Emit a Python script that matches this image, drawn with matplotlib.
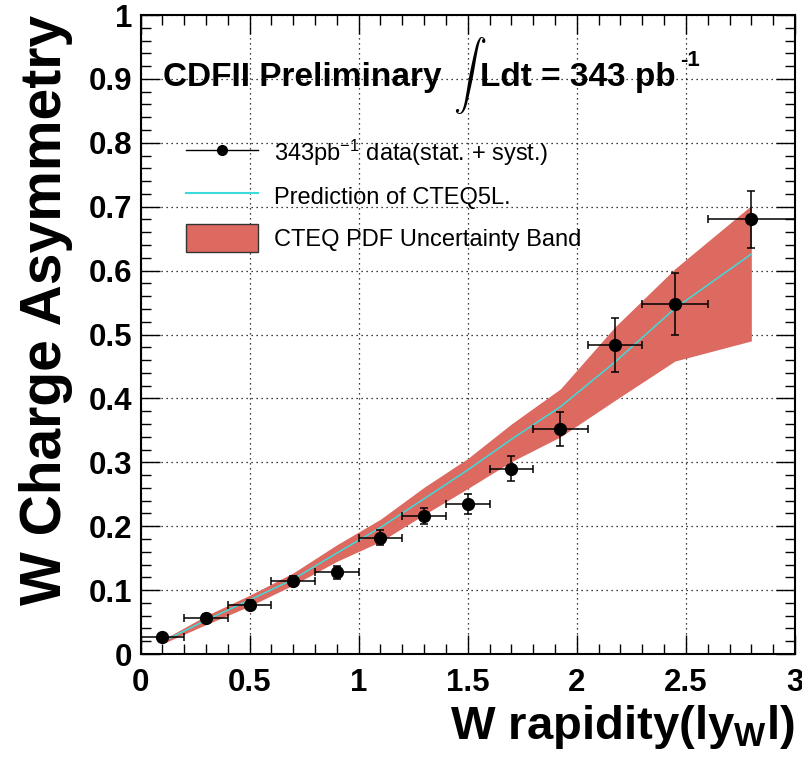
import matplotlib
matplotlib.use("Agg")
import matplotlib.pyplot as plt
from matplotlib.lines import Line2D
import matplotlib.patches as mpatches
from matplotlib.ticker import MultipleLocator
from matplotlib import font_manager

# ---- data ----
rapidity = [0.1, 0.3, 0.5, 0.7, 0.9, 1.1, 1.3, 1.5, 1.7, 1.925, 2.175, 2.45, 2.8]
bin_low = [0.0, 0.2, 0.4, 0.6, 0.8, 1.0, 1.2, 1.4, 1.6, 1.8, 2.05, 2.3, 2.6]
bin_high = [0.2, 0.4, 0.6, 0.8, 1.0, 1.2, 1.4, 1.6, 1.8, 2.05, 2.3, 2.6, 3.0]
asym = [0.026, 0.057, 0.077, 0.114, 0.128, 0.182, 0.216, 0.235, 0.290, 0.352, 0.484, 0.548, 0.680]
asym_err = [0.006, 0.006, 0.007, 0.008, 0.010, 0.012, 0.013, 0.016, 0.020, 0.026, 0.042, 0.048, 0.045]

pred = [0.019, 0.053, 0.0845, 0.117, 0.158, 0.198, 0.243, 0.288, 0.336, 0.387, 0.457, 0.541, 0.626]
band_hi = [0.022, 0.060, 0.092, 0.127, 0.171, 0.211, 0.261, 0.306, 0.360, 0.415, 0.512, 0.603, 0.702]
band_lo = [0.016, 0.046, 0.075, 0.108, 0.145, 0.176, 0.218, 0.259, 0.301, 0.340, 0.397, 0.4585, 0.490]

xticks = [0, 0.5, 1, 1.5, 2, 2.5, 3]
xtick_labels = ["0", "0.5", "1", "1.5", "2", "2.5", "3"]
yticks = [0, 0.1, 0.2, 0.3, 0.4, 0.5, 0.6, 0.7, 0.8, 0.9, 1.0]
ytick_labels = ["0", "0.1", "0.2", "0.3", "0.4", "0.5", "0.6", "0.7", "0.8", "0.9", "1"]

band_color = "#dd6a60"
line_color = "#3cdcdc"

names = {f.name for f in font_manager.fontManager.ttflist}
sans = "Liberation Sans" if "Liberation Sans" in names else "DejaVu Sans"

plt.rcParams["font.family"] = [sans, "DejaVu Sans"]
plt.rcParams["mathtext.fontset"] = "custom"
plt.rcParams["mathtext.rm"] = sans
plt.rcParams["mathtext.bf"] = sans + ":bold"
plt.rcParams["mathtext.it"] = sans + ":italic"

fig = plt.figure(figsize=(8.03, 7.62), dpi=100)
ax = fig.add_axes([0.175, 0.1417, 0.815, 0.8386])

xerr_lo = [c - l for c, l in zip(rapidity, bin_low)]
xerr_hi = [h - c for c, h in zip(rapidity, bin_high)]

ax.fill_between(rapidity, band_lo, band_hi, color=band_color, lw=0, zorder=2)
ax.plot(rapidity, pred, color=line_color, lw=1.1, zorder=3)
ax.errorbar(rapidity, asym, yerr=asym_err, xerr=[xerr_lo, xerr_hi], fmt="o",
            color="black", ms=8.5, elinewidth=1.1, capsize=3, capthick=1.1, zorder=4)

ax.set_xlim(0, 3)
ax.set_ylim(0, 1)
ax.set_xticks(xticks)
ax.set_xticklabels(xtick_labels)
ax.set_yticks(yticks)
ax.set_yticklabels(ytick_labels)
ax.xaxis.set_minor_locator(MultipleLocator(0.1))
ax.yaxis.set_minor_locator(MultipleLocator(0.02))
ax.tick_params(which="both", direction="in", top=True, right=True, width=1.0)
ax.tick_params(which="major", length=14, labelsize=22.5)
ax.tick_params(which="minor", length=7)
ax.tick_params(axis="x", which="major", pad=10)
ax.tick_params(axis="y", which="major", pad=6)
for lab in ax.get_xticklabels() + ax.get_yticklabels():
    lab.set_fontweight("bold")
for s in ax.spines.values():
    s.set_linewidth(1.5)
ax.grid(True, which="major", color="black", linestyle=(0, (1, 3)), lw=0.9, zorder=1)
ax.set_axisbelow(True)

ax.set_xlabel(r"W rapidity(ly$_{\mathbf{W}}$l)", fontsize=34, fontweight="bold",
              loc="right", labelpad=4)
ax.set_ylabel("W Charge Asymmetry", fontsize=41, fontweight="bold", loc="top", labelpad=11)

# title
ax.text(0.034, 0.889, "CDFII Preliminary", transform=ax.transAxes, fontsize=24,
        fontweight="bold", va="baseline")
ax.text(0.478, 0.906, r"$\int$", transform=ax.transAxes, fontsize=24,
        math_fontfamily="cm", va="center", ha="left")
ax.text(0.5186, 0.889, "Ldt = 343 pb", transform=ax.transAxes, fontsize=24,
        fontweight="bold", va="baseline")
ax.text(0.824, 0.92, "-1", transform=ax.transAxes, fontsize=16,
        fontweight="bold", va="baseline")

# legend
h_data = Line2D([], [], color="black", marker="o", ms=7, lw=1.0)
h_pred = Line2D([], [], color=line_color, lw=1.5)
h_band = mpatches.Patch(facecolor=band_color, edgecolor="#333333", lw=1.0)
leg = ax.legend([h_data, h_pred, h_band],
                [r"343pb$^{-1}$ data(stat. + syst.)", "Prediction of CTEQ5L.",
                 "CTEQ PDF Uncertainty Band"],
                loc="upper left", bbox_to_anchor=(0.07, 0.808), frameon=False,
                fontsize=17, handlelength=3.05, handleheight=1.45,
                handletextpad=0.68, labelspacing=0.6, borderaxespad=0,
                borderpad=0)

fig.savefig("out.png", dpi=100)
